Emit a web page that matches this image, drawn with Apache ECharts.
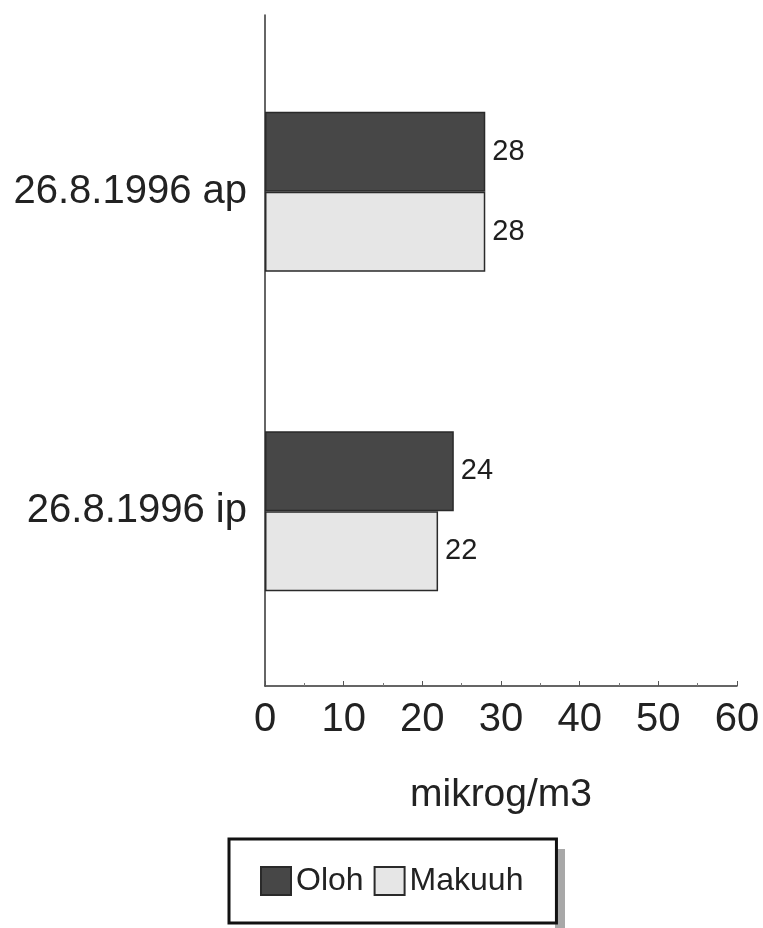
<!DOCTYPE html>
<html>
<head>
<meta charset="utf-8">
<script src="https://cdn.jsdelivr.net/npm/echarts@6/dist/echarts.min.js"></script>
<style>
  html, body { margin: 0; padding: 0; background: #ffffff; }
  #chart { width: 763px; height: 928px; }
</style>
</head>
<body>
<div id="chart"></div>
<script>
const categories = ['26.8.1996 ap', '26.8.1996 ip'];
const seriesNames = ['Oloh', 'Makuuh'];
const olohValues = [28, 24];
const makuuhValues = [28, 22];
const axisTitle = 'mikrog/m3';

const FONT = '"Liberation Sans", Arial, sans-serif';
const chart = echarts.init(document.getElementById('chart'), null, { renderer: 'canvas' });

const option = {
  backgroundColor: '#ffffff',
  animation: false,
  textStyle: { fontFamily: FONT, color: '#222' },
  grid: [
    { left: 265, right: 26, top: 32, bottom: 257, containLabel: false },
    { left: 265, right: 26, top: 15, bottom: 242, containLabel: false }
  ],
  xAxis: [
    { type: 'value', gridIndex: 0, min: 0, max: 60, interval: 10, show: false },
    {
      type: 'value', gridIndex: 1, min: 0, max: 60, interval: 10,
      name: axisTitle, nameLocation: 'middle', nameGap: 90,
      nameTextStyle: { fontSize: 39, color: '#222', fontFamily: FONT },
      axisLine: { show: true, lineStyle: { color: '#333', width: 1.5 } },
      axisTick: { show: true, inside: true, length: 5, lineStyle: { color: '#555' } },
      minorTick: { show: true, splitNumber: 2, length: 3, lineStyle: { color: '#777' } },
      splitLine: { show: false },
      axisLabel: { fontSize: 40, color: '#222', margin: 14, fontFamily: FONT }
    }
  ],
  yAxis: [
    {
      type: 'category', gridIndex: 0, data: categories, inverse: true,
      axisLine: { show: false }, axisTick: { show: false },
      axisLabel: { fontSize: 40, color: '#222', margin: 18, fontFamily: FONT }
    },
    {
      type: 'value', gridIndex: 1,
      axisLine: { show: true, lineStyle: { color: '#333', width: 1.5 } },
      axisTick: { show: false }, axisLabel: { show: false }, splitLine: { show: false }
    }
  ],
  graphic: [
    { type: 'rect', left: 555, top: 849, shape: { width: 10, height: 80 }, style: { fill: '#a8a8a8' }, z: 0 }
  ],
  legend: {
    data: seriesNames,
    left: 229, top: 839,
    orient: 'horizontal',
    icon: 'rect',
    itemWidth: 30, itemHeight: 28, itemGap: 10,
    padding: [26, 33, 26, 31],
    backgroundColor: '#ffffff',
    borderColor: '#111', borderWidth: 3,
    textStyle: { fontSize: 32, color: '#222', fontFamily: FONT }
  },
  series: [
    {
      name: seriesNames[0], type: 'bar', xAxisIndex: 0, yAxisIndex: 0,
      data: olohValues, barWidth: 80, barGap: '0%',
      itemStyle: { color: '#474747', borderColor: '#2a2a2a', borderWidth: 1.5 },
      label: { show: true, position: 'right', distance: 7, fontSize: 29, color: '#1e1e1e', fontFamily: FONT }
    },
    {
      name: seriesNames[1], type: 'bar', xAxisIndex: 0, yAxisIndex: 0,
      data: makuuhValues, barWidth: 80, barGap: '0%',
      itemStyle: { color: '#e6e6e6', borderColor: '#2a2a2a', borderWidth: 1.5 },
      label: { show: true, position: 'right', distance: 7, fontSize: 29, color: '#1e1e1e', fontFamily: FONT }
    }
  ]
};
chart.setOption(option);
</script>
</body>
</html>
